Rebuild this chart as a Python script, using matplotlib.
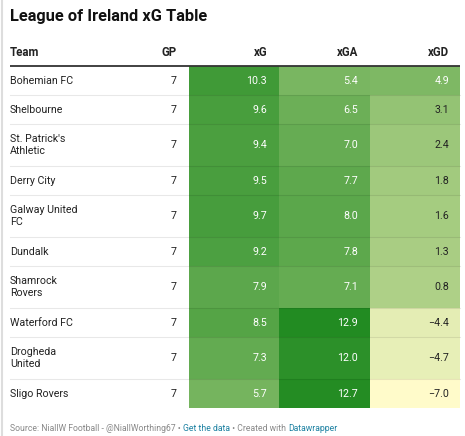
import numpy as np
import matplotlib.pyplot as plt
from matplotlib.colors import LinearSegmentedColormap, Normalize

plt.rcParams['font.family'] = ['Roboto', 'DejaVu Sans']

teams = ["Bohemian FC", "Shelbourne", "St. Patrick's\nAthletic", "Derry City",
         "Galway United\nFC", "Dundalk", "Shamrock\nRovers", "Waterford FC",
         "Drogheda\nUnited", "Sligo Rovers"]
gp = [7, 7, 7, 7, 7, 7, 7, 7, 7, 7]
xg = [10.3, 9.6, 9.4, 9.5, 9.7, 9.2, 7.9, 8.5, 7.3, 5.7]
xga = [5.4, 6.5, 7.0, 7.7, 8.0, 7.8, 7.1, 12.9, 12.0, 12.7]
xgd = [4.9, 3.1, 2.4, 1.8, 1.6, 1.3, 0.8, -4.4, -4.7, -7.0]
headers = ["Team", "GP", "xG", "xGA", "xGD"]

W, H = 465, 436
fig = plt.figure(figsize=(W / 100, H / 100), dpi=100)
ax = fig.add_axes([0, 0, 1, 1])
ax.set_xlim(0, W)
ax.set_ylim(H, 0)
ax.axis('off')

allv = xg + xga + xgd
vmin, vmax = min(allv), max(allv)
mid = (0.8 - vmin) / (vmax - vmin)
cmap = LinearSegmentedColormap.from_list(
    'dw', [(0, '#fffbca'), (mid, '#aed087'), (1, '#228b22')])
norm = Normalize(vmin, vmax)

dark = '#222222'
left = 10
right = 460
col_edges = [189, 279, 370, 460]
num_x = [177, 267, 358, 449]

# left border
ax.plot([2, 2], [0, H], color='#dddddd', lw=1.5, solid_capstyle='butt')

ax.text(left, 17, "League of Ireland xG Table", fontsize=11.8, weight='bold',
        color='#111111', va='center', ha='left')

hy = 53
ax.text(left, hy, headers[0], fontsize=8.3, weight='bold', color=dark, va='center')
for h, x in zip(headers[1:], num_x):
    ax.text(x, hy, h, fontsize=8.3, weight='bold', color=dark, va='center', ha='right')

top = 66
single, double = 29, 42
y = top
for i, team in enumerate(teams):
    rh = double if '\n' in team else single
    cy = y + rh / 2
    ax.text(left, cy, team, fontsize=7.7, color=dark, va='center', ha='left',
            linespacing=1.3)
    ax.text(num_x[0], cy, str(gp[i]), fontsize=7.7, color=dark, va='center', ha='right')
    for j, v in enumerate([xg[i], xga[i], xgd[i]]):
        c = cmap(norm(v))
        ax.add_patch(plt.Rectangle((col_edges[j], y), col_edges[j + 1] - col_edges[j], rh,
                                   facecolor=c, edgecolor='none'))
        lum = 0.299 * c[0] + 0.587 * c[1] + 0.114 * c[2]
        tc = 'white' if lum < 0.65 else dark
        s = f"{v:.1f}".replace('-', '\u2212')
        ax.text(num_x[j + 1], cy, s, fontsize=7.7, color=tc, va='center', ha='right')
    y += rh
    if i < len(teams) - 1:
        ax.plot([left, right], [y, y], color=(0, 0, 0, 0.09), lw=0.8)

ax.plot([left, right], [top, top], color='#333333', lw=1.3, solid_capstyle='butt')

# footer
grey, blue = '#888888', '#1d81a2'
parts = [("Source: NiallW Football - @NiallWorthing67 \u2022 ", grey),
         ("Get the data", blue), (" \u2022 Created with ", grey), ("Datawrapper", blue)]
t = ax.text(left, 428, parts[0][0], fontsize=6.2, color=parts[0][1], va='center')
for s, c in parts[1:]:
    t = ax.annotate(s, xy=(1, 0), xycoords=t, va='bottom', ha='left',
                    fontsize=6.2, color=c)

fig.savefig('out.png', dpi=100)
